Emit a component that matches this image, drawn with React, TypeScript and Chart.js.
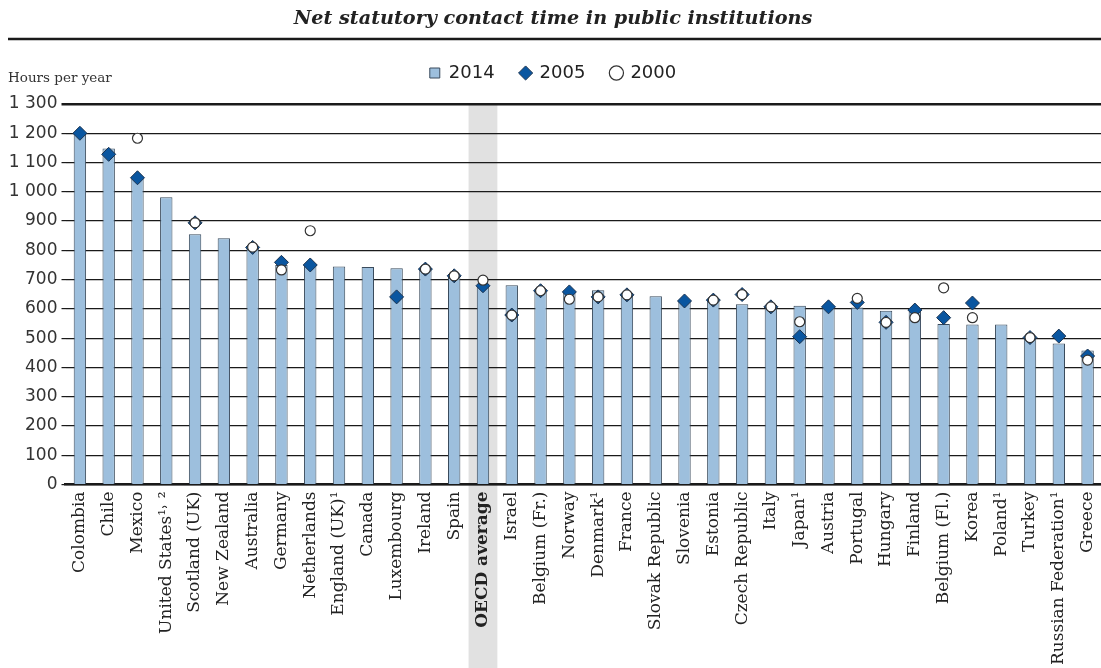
import React, { useEffect, useRef } from 'react';
import { Chart, registerables } from 'chart.js';

Chart.register(...registerables);

const titleText = 'Net statutory contact time in public institutions';
const yAxisLabel = 'Hours per year';

const categories = [
  'Colombia', 'Chile', 'Mexico', 'United States¹˒ ²', 'Scotland (UK)', 'New Zealand',
  'Australia', 'Germany', 'Netherlands', 'England (UK)¹', 'Canada', 'Luxembourg',
  'Ireland', 'Spain', 'OECD average', 'Israel', 'Belgium (Fr.)', 'Norway',
  'Denmark¹', 'France', 'Slovak Republic', 'Slovenia', 'Estonia', 'Czech Republic',
  'Italy', 'Japan¹', 'Austria', 'Portugal', 'Hungary', 'Finland',
  'Belgium (Fl.)', 'Korea', 'Poland¹', 'Turkey', 'Russian Federation¹', 'Greece',
];

const series2014 = [
  1200, 1148, 1046, 981, 855, 841,
  808, 750, 750, 745, 743, 739,
  736, 713, 681, 681, 662, 663,
  664, 648, 643, 627, 630, 616,
  607, 611, 607, 605, 594, 592,
  548, 547, 547, 504, 482, 458,
];

const series2005 = [
  1200, 1128, 1048, null, 894, null,
  810, 759, 750, null, null, 641,
  736, 713, 679, 579, 662, 658,
  641, 648, null, 627, 630, 649,
  607, 505, 607, 622, 554, 596,
  570, 620, null, 502, 507, 439,
];

const series2000 = [
  null, null, 1183, null, 894, null,
  811, 733, 867, null, null, null,
  736, 713, 698, 579, 662, 633,
  641, 648, null, null, 630, 649,
  607, 556, null, 636, 554, 570,
  672, 570, null, 502, null, 425,
];

const legendLabels = ['2014', '2005', '2000'];
const yMin = 0;
const yMax = 1300;
const yStep = 100;
const highlightCategory = 'OECD average';

const formatTick = (v: number) => {
  if (v >= 1000) {
    const th = Math.floor(v / 1000);
    const rest = String(v % 1000).padStart(3, '0');
    return `${th} ${rest}`;
  }
  return String(v);
};

export default function App() {
  const canvasRef = useRef<HTMLCanvasElement | null>(null);

  useEffect(() => {
    const canvas = canvasRef.current;
    if (!canvas) return;
    const hiIndex = categories.indexOf(highlightCategory);

    const decorPlugin = {
      id: 'decor',
      beforeDraw(chart: any) {
        const ctx = chart.ctx;
        const xs = chart.scales.x;
        const px = xs.getPixelForValue(hiIndex);
        const w = xs.getPixelForValue(1) - xs.getPixelForValue(0);
        ctx.save();
        ctx.fillStyle = '#e1e1e1';
        ctx.fillRect(px - w / 2, chart.chartArea.top, w, chart.height - chart.chartArea.top);
        ctx.restore();
      },
      afterDraw(chart: any) {
        const ctx = chart.ctx;
        ctx.save();
        ctx.strokeStyle = '#1a1a1a';
        ctx.lineWidth = 2.5;
        ctx.beginPath();
        ctx.moveTo(8, 39);
        ctx.lineTo(1101, 39);
        ctx.stroke();
        ctx.fillStyle = '#333';
        ctx.font = '13.5px "DejaVu Serif"';
        ctx.textAlign = 'left';
        ctx.textBaseline = 'middle';
        ctx.fillText(yAxisLabel, 8, 78);
        ctx.restore();
      },
    };

    const chart = new Chart(canvas, {
      data: {
        labels: categories,
        datasets: [
          {
            type: 'bar',
            label: legendLabels[0],
            data: series2014,
            backgroundColor: '#9dbfdd',
            borderColor: '#3a4b5c',
            borderWidth: 1,
            barPercentage: 0.43,
            categoryPercentage: 1,
            pointStyle: 'rect',
            order: 3,
          } as any,
          {
            type: 'line',
            label: legendLabels[1],
            data: series2005,
            showLine: false,
            pointStyle: 'rectRot',
            pointRadius: 7,
            pointBackgroundColor: '#0a56a0',
            pointBorderColor: '#1b3350',
            pointBorderWidth: 1,
            backgroundColor: '#0a56a0',
            borderColor: '#1b3350',
            order: 2,
          } as any,
          {
            type: 'line',
            label: legendLabels[2],
            data: series2000,
            showLine: false,
            pointStyle: 'circle',
            pointRadius: 5,
            pointBackgroundColor: '#ffffff',
            pointBorderColor: '#333333',
            pointBorderWidth: 1.2,
            backgroundColor: '#ffffff',
            borderColor: '#333333',
            order: 1,
          } as any,
        ],
      },
      options: {
        responsive: false,
        maintainAspectRatio: false,
        animation: false,
        events: [],
        devicePixelRatio: 1,
        layout: { padding: { top: 0, left: 0, right: 4, bottom: 0 } },
        plugins: {
          tooltip: { enabled: false },
          title: {
            display: true,
            text: titleText,
            color: '#222',
            font: { family: '"DejaVu Serif"', style: 'italic', weight: 'bold', size: 19.2, lineHeight: 1.2 },
            padding: { top: 7, bottom: 7.96 },
          },
          legend: {
            display: true,
            position: 'top',
            align: 'center',
            labels: {
              usePointStyle: true,
              boxWidth: 10,
              boxHeight: 10,
              padding: 26,
              color: '#222',
              font: { family: '"DejaVu Sans"', size: 18 },
              sort: (a: any, b: any) => a.datasetIndex - b.datasetIndex,
            },
          },
          subtitle: {
            display: true,
            text: '',
            weight: 500,
            font: { size: 10, lineHeight: 1.2 },
            padding: 0,
          } as any,
        },
        scales: {
          x: {
            type: 'category',
            offset: true,
            grid: { display: false, drawTicks: false },
            border: { display: true, color: '#1a1a1a', width: 2.5 },
            ticks: {
              autoSkip: false,
              maxRotation: 90,
              minRotation: 90,
              padding: 7,
              color: '#222',
              font: (ctx: any) =>
                ctx.index === hiIndex
                  ? { family: '"DejaVu Serif"', size: 17, weight: 'bold' }
                  : { family: '"DejaVu Serif"', size: 17 },
            },
            afterFit: (scale: any) => {
              scale.height = 183.5;
              scale.paddingLeft = 0;
              scale.paddingRight = 0;
            },
          },
          y: {
            min: yMin,
            max: yMax,
            border: { display: false },
            grid: {
              color: '#1a1a1a',
              lineWidth: (ctx: any) => (ctx.tick && ctx.tick.value === yMax ? 2.5 : 1.2),
              drawTicks: true,
              tickLength: 4,
            },
            ticks: {
              stepSize: yStep,
              padding: 4,
              color: '#333',
              font: { family: '"DejaVu Sans"', size: 17 },
              callback: (v: any) => formatTick(Number(v)),
            },
            afterFit: (scale: any) => {
              scale.width = 65.5;
            },
          },
        },
      } as any,
      plugins: [decorPlugin],
    });

    return () => {
      chart.destroy();
    };
  }, []);

  return (
    <div
      style={{
        position: 'fixed',
        left: 0,
        top: 0,
        width: 1101,
        height: 668,
        overflow: 'hidden',
        background: '#ffffff',
      }}
    >
      <canvas ref={canvasRef} width={1110} height={668} style={{ display: 'block' }} />
    </div>
  );
}
